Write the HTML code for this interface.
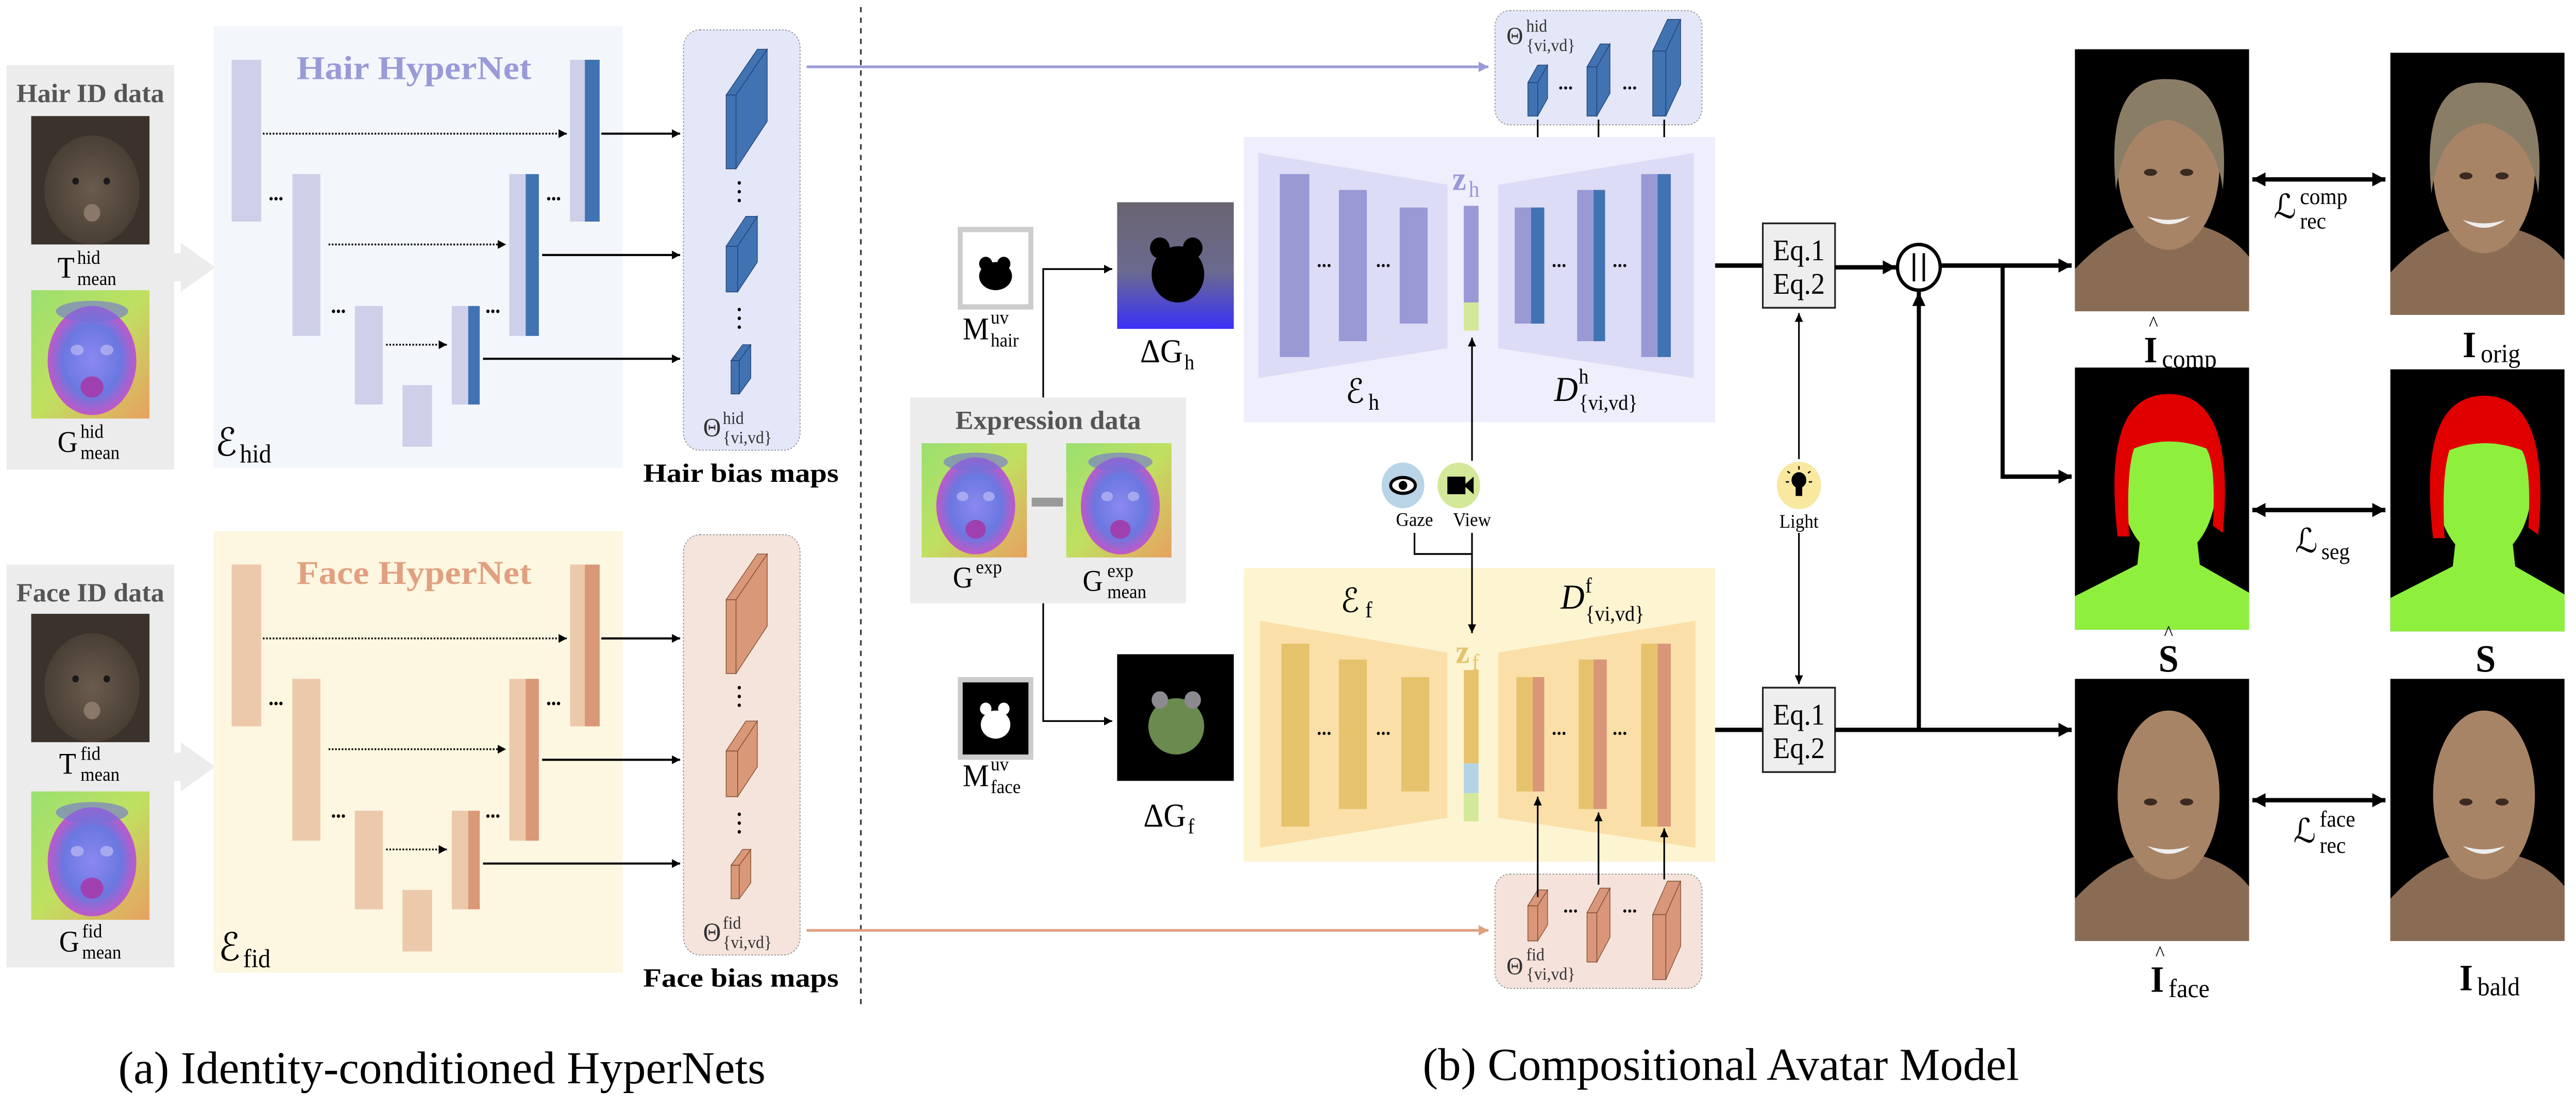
<!DOCTYPE html>
<html><head><meta charset="utf-8"><style>html,body{margin:0;padding:0;background:#fff;overflow:hidden}svg{display:block;position:fixed;left:0;top:0;width:100vw;height:100vh}</style></head><body>
<svg xmlns="http://www.w3.org/2000/svg" viewBox="0 0 1568 630" preserveAspectRatio="none" font-family="'Liberation Serif', serif">
<defs>
<marker id="a" viewBox="0 0 10 10" refX="10" refY="5" markerWidth="5" markerHeight="5" markerUnits="userSpaceOnUse" orient="auto"><path d="M0,0L10,5L0,10z" fill="#000"/></marker>
<marker id="ab" viewBox="0 0 10 10" refX="10" refY="5" markerWidth="8" markerHeight="8" markerUnits="userSpaceOnUse" orient="auto-start-reverse"><path d="M0,0L10,5L0,10z" fill="#000"/></marker>
<marker id="ap" viewBox="0 0 10 10" refX="10" refY="5" markerWidth="6" markerHeight="6" markerUnits="userSpaceOnUse" orient="auto"><path d="M0,0L10,5L0,10z" fill="#9a9ad8"/></marker>
<marker id="ao" viewBox="0 0 10 10" refX="10" refY="5" markerWidth="6" markerHeight="6" markerUnits="userSpaceOnUse" orient="auto"><path d="M0,0L10,5L0,10z" fill="#e0a080"/></marker>
<linearGradient id="gbg" x1="0" y1="0" x2="1" y2="1"><stop offset="0" stop-color="#9ae070"/><stop offset=".5" stop-color="#c0e060"/><stop offset="1" stop-color="#e8a060"/></linearGradient>
<radialGradient id="gf" cx=".5" cy=".5" r=".5"><stop offset="0" stop-color="#8c88f0"/><stop offset=".65" stop-color="#6a78e0"/><stop offset="1" stop-color="#c058c8"/></radialGradient>
<radialGradient id="tf" cx=".5" cy=".5" r=".5"><stop offset="0" stop-color="#6a5c4e"/><stop offset="1" stop-color="#4a3f35"/></radialGradient>
<linearGradient id="dgh" x1="0" y1="0" x2="0" y2="1"><stop offset="0" stop-color="#6a6470"/><stop offset=".55" stop-color="#6a6a90"/><stop offset="1" stop-color="#3a30f8"/></linearGradient>
<g id="gt"><rect width="72" height="73" fill="url(#gbg)"/><ellipse cx="37" cy="40" rx="27" ry="31" fill="url(#gf)"/><ellipse cx="37" cy="12" rx="22" ry="6" fill="#7070d8" opacity=".6"/><ellipse cx="28" cy="34" rx="4" ry="3" fill="#a8a8f0"/><ellipse cx="46" cy="34" rx="4" ry="3" fill="#a8a8f0"/><ellipse cx="37" cy="55" rx="7" ry="6" fill="#a040b0"/></g>
<g id="tt"><rect width="72" height="73" fill="#3a322b"/><ellipse cx="37" cy="42" rx="29" ry="31" fill="url(#tf)"/><circle cx="27" cy="37" r="2" fill="#1a1a1a"/><circle cx="46" cy="37" r="2" fill="#1a1a1a"/><ellipse cx="37" cy="55" rx="5" ry="5" fill="#8a786a"/></g>
<g id="face"><rect width="106" height="149" fill="#000"/><path d="M0,125 Q20,105 40,100 L75,100 Q95,105 106,118 L106,149 L0,149Z" fill="#8a6c55"/><rect x="42" y="90" width="30" height="20" fill="#94745a"/><ellipse cx="57" cy="66" rx="31" ry="48" fill="#a88466"/><ellipse cx="46" cy="70" rx="4" ry="2" fill="#3a2a20"/><ellipse cx="68" cy="70" rx="4" ry="2" fill="#3a2a20"/><path d="M44,95 Q57,104 70,95 Q57,99 44,95Z" fill="#eee"/></g>
<g id="hair"><path d="M25,80 Q18,15 57,17 Q96,17 90,80 Q86,47 57,40 Q30,43 25,80Z" fill="#8a7d66"/></g>
<g id="seg"><rect width="106" height="149" fill="#000"/><path d="M0,130 L38,112 L40,95 L74,95 L76,112 L106,128 L106,149 L0,149Z" fill="#8ef03c"/><ellipse cx="57" cy="66" rx="29" ry="42" fill="#8ef03c"/><path d="M26,96 Q16,15 57,15 Q98,15 90,94 L84,90 Q86,55 80,46 Q57,38 36,46 Q31,60 33,96Z" fill="#e00000"/></g>
</defs>

<line x1="524" y1="4" x2="524" y2="571" stroke="#333" stroke-width="1" stroke-dasharray="3,3"/>

<rect x="4" y="37" width="102" height="230" fill="#ececec"/>
<text x="55" y="58" text-anchor="middle" font-weight="bold" font-size="15" fill="#555" textLength="90" lengthAdjust="spacingAndGlyphs">Hair ID data</text>
<use href="#tt" transform="translate(19,66)"/>
<text x="35" y="158" font-size="17">T</text><text x="47" y="150" font-size="11">hid</text><text x="47" y="162" font-size="11">mean</text>
<use href="#gt" transform="translate(19,165)"/>
<text x="35" y="257" font-size="17">G</text><text x="49" y="249" font-size="11">hid</text><text x="49" y="261" font-size="11">mean</text>
<polygon points="106,144 110,144 110,138 131,152 110,166 110,160 106,160" fill="#ececec"/>

<rect x="4" y="321" width="102" height="229" fill="#ececec"/>
<text x="55" y="342" text-anchor="middle" font-weight="bold" font-size="15" fill="#555" textLength="90" lengthAdjust="spacingAndGlyphs">Face ID data</text>
<use href="#tt" transform="translate(19,349)"/>
<text x="36" y="440" font-size="17">T</text><text x="49" y="432" font-size="11">fid</text><text x="49" y="444" font-size="11">mean</text>
<use href="#gt" transform="translate(19,450)"/>
<text x="36" y="541" font-size="17">G</text><text x="50" y="533" font-size="11">fid</text><text x="50" y="545" font-size="11">mean</text>
<polygon points="106,428 110,428 110,422 131,436 110,450 110,444 106,444" fill="#ececec"/>

<g>
<rect x="130" y="15" width="249" height="251" fill="#f3f7fc"/>
<text x="252" y="45" text-anchor="middle" font-weight="bold" font-size="19" fill="#9a9ad8" textLength="143" lengthAdjust="spacingAndGlyphs">Hair HyperNet</text>
<g fill="#cdd0e8">
<rect x="141" y="34" width="18" height="92"/><rect x="178" y="99" width="17" height="92"/><rect x="216" y="174" width="17" height="56"/><rect x="245" y="219" width="18" height="35"/>
<rect x="275" y="174" width="17" height="56"/><rect x="310" y="99" width="18" height="92"/><rect x="347" y="34" width="18" height="92"/>
</g>
<g fill="#4173b3"><rect x="285" y="174" width="7" height="56"/><rect x="320" y="99" width="8" height="92"/><rect x="356" y="34" width="9" height="92"/></g>
<g fill="#000"><circle cx="165" cy="113" r="1"/><circle cx="168" cy="113" r="1"/><circle cx="171" cy="113" r="1"/>
<circle cx="203" cy="177" r="1"/><circle cx="206" cy="177" r="1"/><circle cx="209" cy="177" r="1"/>
<circle cx="334" cy="113" r="1"/><circle cx="337" cy="113" r="1"/><circle cx="340" cy="113" r="1"/>
<circle cx="297" cy="177" r="1"/><circle cx="300" cy="177" r="1"/><circle cx="303" cy="177" r="1"/></g>
<g stroke="#000" stroke-width="1" stroke-dasharray="1,1" marker-end="url(#a)"><line x1="160" y1="76" x2="345" y2="76"/><line x1="200" y1="139" x2="308" y2="139"/><line x1="235" y1="196" x2="272" y2="196"/></g>
<g stroke="#000" stroke-width="1.2" marker-end="url(#a)"><line x1="366" y1="76" x2="414" y2="76"/><line x1="330" y1="145" x2="414" y2="145"/><line x1="294" y1="204" x2="414" y2="204"/></g>
<text x="131" y="259" font-family="'DejaVu Serif','DejaVu Sans',serif" font-size="22">ℰ</text><text x="146" y="263" font-size="15">hid</text>
<rect x="416" y="17" width="71" height="239" rx="10" fill="#e4e7f8" stroke="#999" stroke-width=".6" stroke-dasharray="1,1"/>
<g fill="#4173b3" stroke="#1f3f70" stroke-width=".4">
<rect x="442" y="54" width="6" height="42"/><polygon points="442,54 448,54 467,28 461,28"/><polygon points="448,54 467,28 467,69 448,96"/>
<rect x="442" y="140" width="7" height="26"/><polygon points="442,140 449,140 461,123 454,123"/><polygon points="449,140 461,123 461,149 449,166"/>
<rect x="445" y="205" width="5" height="19"/><polygon points="445,205 450,205 457,196 452,196"/><polygon points="450,205 457,196 457,215 450,224"/>
</g>
<g fill="#000"><circle cx="450" cy="104" r="1"/><circle cx="450" cy="109" r="1"/><circle cx="450" cy="114" r="1"/><circle cx="450" cy="176" r="1"/><circle cx="450" cy="181" r="1"/><circle cx="450" cy="186" r="1"/></g>
<text x="428" y="248" font-size="15" fill="#333">Θ</text><text x="440" y="241" font-size="10" fill="#333">hid</text><text x="440" y="252" font-size="10" fill="#333">{vi,vd}</text>
<text x="451" y="274" text-anchor="middle" font-weight="bold" font-size="15" textLength="119" lengthAdjust="spacingAndGlyphs">Hair bias maps</text>
</g>

<g transform="translate(0,287)">
<rect x="130" y="15" width="249" height="251" fill="#fdf6e0"/>
<text x="252" y="45" text-anchor="middle" font-weight="bold" font-size="19" fill="#e0a080" textLength="143" lengthAdjust="spacingAndGlyphs">Face HyperNet</text>
<g fill="#ecc9aa">
<rect x="141" y="34" width="18" height="92"/><rect x="178" y="99" width="17" height="92"/><rect x="216" y="174" width="17" height="56"/><rect x="245" y="219" width="18" height="35"/>
<rect x="275" y="174" width="17" height="56"/><rect x="310" y="99" width="18" height="92"/><rect x="347" y="34" width="18" height="92"/>
</g>
<g fill="#d99877"><rect x="285" y="174" width="7" height="56"/><rect x="320" y="99" width="8" height="92"/><rect x="356" y="34" width="9" height="92"/></g>
<g fill="#000"><circle cx="165" cy="113" r="1"/><circle cx="168" cy="113" r="1"/><circle cx="171" cy="113" r="1"/>
<circle cx="203" cy="177" r="1"/><circle cx="206" cy="177" r="1"/><circle cx="209" cy="177" r="1"/>
<circle cx="334" cy="113" r="1"/><circle cx="337" cy="113" r="1"/><circle cx="340" cy="113" r="1"/>
<circle cx="297" cy="177" r="1"/><circle cx="300" cy="177" r="1"/><circle cx="303" cy="177" r="1"/></g>
<g stroke="#000" stroke-width="1" stroke-dasharray="1,1" marker-end="url(#a)"><line x1="160" y1="76" x2="345" y2="76"/><line x1="200" y1="139" x2="308" y2="139"/><line x1="235" y1="196" x2="272" y2="196"/></g>
<g stroke="#000" stroke-width="1.2" marker-end="url(#a)"><line x1="366" y1="76" x2="414" y2="76"/><line x1="330" y1="145" x2="414" y2="145"/><line x1="294" y1="204" x2="414" y2="204"/></g>
<text x="133" y="259" font-family="'DejaVu Serif','DejaVu Sans',serif" font-size="22">ℰ</text><text x="148" y="263" font-size="15">fid</text>
<rect x="416" y="17" width="71" height="239" rx="10" fill="#f5e4dc" stroke="#999" stroke-width=".6" stroke-dasharray="1,1"/>
<g fill="#d99877" stroke="#7a4a30" stroke-width=".4">
<rect x="442" y="54" width="6" height="42"/><polygon points="442,54 448,54 467,28 461,28"/><polygon points="448,54 467,28 467,69 448,96"/>
<rect x="442" y="140" width="7" height="26"/><polygon points="442,140 449,140 461,123 454,123"/><polygon points="449,140 461,123 461,149 449,166"/>
<rect x="445" y="205" width="5" height="19"/><polygon points="445,205 450,205 457,196 452,196"/><polygon points="450,205 457,196 457,215 450,224"/>
</g>
<g fill="#000"><circle cx="450" cy="104" r="1"/><circle cx="450" cy="109" r="1"/><circle cx="450" cy="114" r="1"/><circle cx="450" cy="176" r="1"/><circle cx="450" cy="181" r="1"/><circle cx="450" cy="186" r="1"/></g>
<text x="428" y="248" font-size="15" fill="#333">Θ</text><text x="440" y="241" font-size="10" fill="#333">fid</text><text x="440" y="252" font-size="10" fill="#333">{vi,vd}</text>
<text x="451" y="274" text-anchor="middle" font-weight="bold" font-size="15" textLength="119" lengthAdjust="spacingAndGlyphs">Face bias maps</text>
</g>

<text x="72" y="616" font-size="26" textLength="394" lengthAdjust="spacingAndGlyphs">(a) Identity-conditioned HyperNets</text>
<text x="866" y="614" font-size="26" textLength="363" lengthAdjust="spacingAndGlyphs">(b) Compositional Avatar Model</text>

<line x1="491" y1="38" x2="906" y2="38" stroke="#9a9ad8" stroke-width="1.5" marker-end="url(#ap)"/>
<line x1="491" y1="529" x2="906" y2="529" stroke="#e0a080" stroke-width="1.5" marker-end="url(#ao)"/>

<rect x="910" y="6" width="126" height="65" rx="9" fill="#e4e7f8" stroke="#999" stroke-width=".6" stroke-dasharray="1,1"/>
<text x="917" y="25" font-size="14" fill="#333">Θ</text><text x="929" y="18" font-size="10" fill="#333">hid</text><text x="929" y="29" font-size="10" fill="#333">{vi,vd}</text>
<g fill="#4173b3" stroke="#1f3f70" stroke-width=".4">
<rect x="930" y="47" width="6" height="19"/><polygon points="930,47 936,47 942,37 936,37"/><polygon points="936,47 942,37 942,56 936,66"/>
<rect x="966" y="38" width="6" height="28"/><polygon points="966,38 972,38 980,25 974,25"/><polygon points="972,38 980,25 980,53 972,66"/>
<rect x="1006" y="29" width="8" height="37"/><polygon points="1006,29 1014,29 1023,11 1015,11"/><polygon points="1014,29 1023,11 1023,48 1014,66"/>
</g>
<g fill="#000"><circle cx="950" cy="50" r=".9"/><circle cx="953" cy="50" r=".9"/><circle cx="956" cy="50" r=".9"/><circle cx="989" cy="50" r=".9"/><circle cx="992" cy="50" r=".9"/><circle cx="995" cy="50" r=".9"/></g>
<g stroke="#000" stroke-width="1" marker-end="url(#a)"><line x1="936" y1="68" x2="936" y2="117"/><line x1="973" y1="68" x2="973" y2="106"/><line x1="1013" y1="68" x2="1013" y2="96"/></g>

<rect x="757" y="78" width="287" height="162" fill="#eeeefc"/>
<polygon points="766,87 881,105 881,198 766,215" fill="#dcdcf6"/>
<polygon points="912,105 1031,87 1031,215 912,198" fill="#dcdcf6"/>
<g fill="#9999d6"><rect x="779" y="99" width="18" height="104"/><rect x="815" y="108" width="17" height="86"/><rect x="852" y="118" width="17" height="66"/>
<rect x="922" y="118" width="18" height="66"/><rect x="960" y="108" width="17" height="86"/><rect x="999" y="99" width="18" height="104"/>
<rect x="891" y="117" width="9" height="55"/></g>
<rect x="891" y="172" width="9" height="16" fill="#d4e89a"/>
<g fill="#4173b3"><rect x="932" y="118" width="8" height="66"/><rect x="970" y="108" width="7" height="86"/><rect x="1009" y="99" width="8" height="104"/></g>
<g fill="#000"><circle cx="803" cy="151" r=".9"/><circle cx="806" cy="151" r=".9"/><circle cx="809" cy="151" r=".9"/><circle cx="839" cy="151" r=".9"/><circle cx="842" cy="151" r=".9"/><circle cx="845" cy="151" r=".9"/>
<circle cx="946" cy="151" r=".9"/><circle cx="949" cy="151" r=".9"/><circle cx="952" cy="151" r=".9"/><circle cx="983" cy="151" r=".9"/><circle cx="986" cy="151" r=".9"/><circle cx="989" cy="151" r=".9"/></g>
<text x="884" y="108" font-size="19" font-weight="bold" fill="#9999d6">z</text><text x="894" y="112" font-size="13" fill="#9999d6">h</text>
<text x="819" y="229" font-family="'DejaVu Serif','DejaVu Sans',serif" font-size="19">ℰ</text><text x="833" y="233" font-size="13">h</text>
<text x="946" y="228" font-size="20" font-style="italic">D</text><text x="961" y="218" font-size="12">h</text><text x="961" y="233" font-size="12">{vi,vd}</text>

<rect x="757" y="323" width="287" height="167" fill="#fdf4d2"/>
<polygon points="767,353 881,371 881,465 767,482" fill="#fae0a8"/>
<polygon points="912,371 1032,353 1032,482 912,465" fill="#fae0a8"/>
<g fill="#e6c26c"><rect x="780" y="366" width="17" height="104"/><rect x="815" y="375" width="17" height="85"/><rect x="853" y="385" width="17" height="65"/>
<rect x="923" y="385" width="17" height="65"/><rect x="961" y="375" width="17" height="85"/><rect x="999" y="366" width="18" height="104"/>
<rect x="891" y="381" width="9" height="53"/></g>
<rect x="891" y="434" width="9" height="17" fill="#b4d4e6"/><rect x="891" y="451" width="9" height="16" fill="#d4e89a"/>
<g fill="#d9967a"><rect x="933" y="385" width="7" height="65"/><rect x="970" y="375" width="8" height="85"/><rect x="1009" y="366" width="8" height="104"/></g>
<g fill="#000"><circle cx="803" cy="417" r=".9"/><circle cx="806" cy="417" r=".9"/><circle cx="809" cy="417" r=".9"/><circle cx="839" cy="417" r=".9"/><circle cx="842" cy="417" r=".9"/><circle cx="845" cy="417" r=".9"/>
<circle cx="946" cy="417" r=".9"/><circle cx="949" cy="417" r=".9"/><circle cx="952" cy="417" r=".9"/><circle cx="983" cy="417" r=".9"/><circle cx="986" cy="417" r=".9"/><circle cx="989" cy="417" r=".9"/></g>
<text x="886" y="377" font-size="19" font-weight="bold" fill="#e6c26c">z</text><text x="896" y="381" font-size="13" fill="#e6c26c">f</text>
<text x="816" y="348" font-family="'DejaVu Serif','DejaVu Sans',serif" font-size="19">ℰ</text><text x="831" y="351" font-size="13">f</text>
<text x="950" y="346" font-size="20" font-style="italic">D</text><text x="965" y="337" font-size="12">f</text><text x="965" y="353" font-size="12">{vi,vd}</text>

<rect x="910" y="497" width="126" height="65" rx="9" fill="#f5e2da" stroke="#999" stroke-width=".6" stroke-dasharray="1,1"/>
<g fill="#d9967a" stroke="#7a4a30" stroke-width=".4">
<rect x="930" y="515" width="6" height="20"/><polygon points="930,515 936,515 942,506 936,506"/><polygon points="936,515 942,506 942,526 936,535"/>
<rect x="966" y="519" width="6" height="28"/><polygon points="966,519 972,519 980,505 974,505"/><polygon points="972,519 980,505 980,533 972,547"/>
<rect x="1006" y="520" width="8" height="37"/><polygon points="1006,520 1014,520 1023,501 1015,501"/><polygon points="1014,520 1023,501 1023,538 1014,557"/>
</g>
<g fill="#000"><circle cx="953" cy="518" r=".9"/><circle cx="956" cy="518" r=".9"/><circle cx="959" cy="518" r=".9"/><circle cx="989" cy="518" r=".9"/><circle cx="992" cy="518" r=".9"/><circle cx="995" cy="518" r=".9"/></g>
<text x="917" y="554" font-size="14" fill="#333">Θ</text><text x="929" y="546" font-size="10" fill="#333">fid</text><text x="929" y="557" font-size="10" fill="#333">{vi,vd}</text>
<g stroke="#000" stroke-width="1" marker-end="url(#a)"><line x1="936" y1="510" x2="936" y2="453"/><line x1="973" y1="503" x2="973" y2="462"/><line x1="1013" y1="500" x2="1013" y2="471"/></g>

<rect x="584.5" y="130.5" width="43" height="44" fill="#fff" stroke="#ccc" stroke-width="3"/>
<ellipse cx="606" cy="157" rx="10" ry="8" fill="#000"/><circle cx="600" cy="150" r="4" fill="#000"/><circle cx="611" cy="150" r="4" fill="#000"/>
<text x="586" y="193" font-size="18">M</text><text x="603" y="184" font-size="11">uv</text><text x="603" y="197" font-size="11">hair</text>
<rect x="584.5" y="386.5" width="43" height="44" fill="#000" stroke="#ccc" stroke-width="3"/>
<ellipse cx="606" cy="412" rx="9" ry="8" fill="#fff"/><circle cx="600" cy="403" r="3.5" fill="#fff"/><circle cx="611" cy="403" r="3.5" fill="#fff"/>
<text x="586" y="447" font-size="18">M</text><text x="603" y="438" font-size="11">uv</text><text x="603" y="451" font-size="11">face</text>
<rect x="680" y="115" width="71" height="72" fill="url(#dgh)"/>
<ellipse cx="717" cy="156" rx="16" ry="16" fill="#000"/><circle cx="706" cy="141" r="6" fill="#000"/><circle cx="726" cy="141" r="6" fill="#000"/>
<text x="694" y="206" font-size="19">ΔG</text><text x="721" y="210" font-size="12">h</text>
<rect x="680" y="372" width="71" height="72" fill="#000"/>
<ellipse cx="716" cy="413" rx="17" ry="16" fill="#6a8a50"/><circle cx="706" cy="398" r="5" fill="#8a8a90"/><circle cx="726" cy="398" r="5" fill="#8a8a90"/>
<text x="696" y="470" font-size="19">ΔG</text><text x="723" y="474" font-size="12">f</text>

<rect x="554" y="226" width="168" height="117" fill="#ececec"/>
<text x="638" y="244" text-anchor="middle" font-weight="bold" font-size="15" fill="#555" textLength="113" lengthAdjust="spacingAndGlyphs">Expression data</text>
<use href="#gt" transform="translate(561,252) scale(0.89)"/>
<use href="#gt" transform="translate(649,252) scale(0.89)"/>
<rect x="628" y="283" width="19" height="5" fill="#999"/>
<text x="580" y="334" font-size="17">G</text><text x="594" y="326" font-size="11">exp</text>
<text x="659" y="336" font-size="17">G</text><text x="674" y="328" font-size="11">exp</text><text x="674" y="340" font-size="11">mean</text>
<polyline points="635,226 635,153 677,153" fill="none" stroke="#000" stroke-width="1" marker-end="url(#a)"/>
<polyline points="635,343 635,410 677,410" fill="none" stroke="#000" stroke-width="1" marker-end="url(#a)"/>

<circle cx="854" cy="276" r="13" fill="#b8d4e6"/>
<ellipse cx="854" cy="276" rx="7.5" ry="4.5" fill="#fff" stroke="#000" stroke-width="1.8"/><circle cx="854" cy="276" r="2.6" fill="#000"/>
<circle cx="888" cy="276" r="13" fill="#d4e89a"/>
<rect x="881" y="271" width="11" height="10" fill="#000"/><polygon points="891,276 897,271 897,281" fill="#000"/>
<circle cx="1095" cy="276" r="13.5" fill="#f8e8a0"/>
<circle cx="1095" cy="273" r="4.5" fill="#000"/><rect x="1093" y="276" width="4" height="6" fill="#000"/>
<g stroke="#000" stroke-width=".8"><line x1="1095" y1="265" x2="1095" y2="267"/><line x1="1088" y1="268" x2="1089.5" y2="269"/><line x1="1102" y1="268" x2="1100.5" y2="269"/><line x1="1087" y1="274" x2="1089" y2="274"/><line x1="1103" y1="274" x2="1101" y2="274"/></g>
<text x="861" y="299" text-anchor="middle" font-size="11">Gaze</text>
<text x="896" y="299" text-anchor="middle" font-size="11">View</text>
<text x="1095" y="300" text-anchor="middle" font-size="11">Light</text>
<polyline points="861,303 861,315 896,315" fill="none" stroke="#000" stroke-width="1"/>
<line x1="896" y1="303" x2="896" y2="360" stroke="#000" stroke-width="1" marker-end="url(#a)"/>
<line x1="896" y1="262" x2="896" y2="192" stroke="#000" stroke-width="1" marker-end="url(#a)"/>
<line x1="1095" y1="261" x2="1095" y2="178" stroke="#000" stroke-width="1" marker-end="url(#a)"/>
<line x1="1095" y1="303" x2="1095" y2="389" stroke="#000" stroke-width="1" marker-end="url(#a)"/>

<line x1="1044" y1="151" x2="1073" y2="151" stroke="#000" stroke-width="2.5"/>
<line x1="1044" y1="415" x2="1073" y2="415" stroke="#000" stroke-width="2.5"/>
<rect x="1073" y="127" width="44" height="48" fill="#eee" stroke="#222" stroke-width="1"/>
<text x="1095" y="148" text-anchor="middle" font-size="17">Eq.1</text><text x="1095" y="167" text-anchor="middle" font-size="17">Eq.2</text>
<rect x="1073" y="391" width="44" height="48" fill="#eee" stroke="#222" stroke-width="1"/>
<text x="1095" y="412" text-anchor="middle" font-size="17">Eq.1</text><text x="1095" y="431" text-anchor="middle" font-size="17">Eq.2</text>
<line x1="1117" y1="152" x2="1154" y2="152" stroke="#000" stroke-width="2.5" marker-end="url(#ab)"/>
<circle cx="1168" cy="152" r="13" fill="#fff" stroke="#000" stroke-width="2"/>
<line x1="1165" y1="144" x2="1165" y2="160" stroke="#000" stroke-width="1.5"/><line x1="1171" y1="144" x2="1171" y2="160" stroke="#000" stroke-width="1.5"/>
<line x1="1181" y1="151" x2="1261" y2="151" stroke="#000" stroke-width="2.5" marker-end="url(#ab)"/>
<polyline points="1219,151 1219,271 1261,271" fill="none" stroke="#000" stroke-width="2.5" marker-end="url(#ab)"/>
<line x1="1117" y1="415" x2="1261" y2="415" stroke="#000" stroke-width="2.5" marker-end="url(#ab)"/>
<line x1="1168" y1="415" x2="1168" y2="166" stroke="#000" stroke-width="2.5" marker-end="url(#ab)"/>

<g transform="translate(1263,28)"><use href="#face"/><use href="#hair"/></g>
<g transform="translate(1455,30)"><use href="#face"/><use href="#hair"/></g>
<use href="#seg" transform="translate(1263,209)"/>
<use href="#seg" transform="translate(1455,210)"/>
<use href="#face" transform="translate(1263,386)"/>
<use href="#face" transform="translate(1455,386)"/>

<line x1="1371" y1="102" x2="1452" y2="102" stroke="#000" stroke-width="2.5" marker-start="url(#ab)" marker-end="url(#ab)"/>
<line x1="1371" y1="290" x2="1452" y2="290" stroke="#000" stroke-width="2.5" marker-start="url(#ab)" marker-end="url(#ab)"/>
<line x1="1371" y1="455" x2="1452" y2="455" stroke="#000" stroke-width="2.5" marker-start="url(#ab)" marker-end="url(#ab)"/>
<text x="1384" y="124" font-family="'DejaVu Serif','DejaVu Sans',serif" font-style="italic" font-size="19">ℒ</text><text x="1400" y="116" font-size="13">comp</text><text x="1400" y="130" font-size="13">rec</text>
<text x="1397" y="314" font-family="'DejaVu Serif','DejaVu Sans',serif" font-style="italic" font-size="19">ℒ</text><text x="1413" y="318" font-size="13">seg</text>
<text x="1396" y="479" font-family="'DejaVu Serif','DejaVu Sans',serif" font-style="italic" font-size="19">ℒ</text><text x="1412" y="470" font-size="13">face</text><text x="1412" y="485" font-size="13">rec</text>

<text x="1305" y="206" font-size="21" font-weight="bold">I</text><text x="1308" y="188" font-size="12">^</text><text x="1316" y="209" font-size="15">comp</text>
<text x="1499" y="203" font-size="21" font-weight="bold">I</text><text x="1510" y="206" font-size="15">orig</text>
<text x="1320" y="382" text-anchor="middle" font-size="22" font-weight="bold">S</text><text x="1320" y="364" text-anchor="middle" font-size="12">^</text>
<text x="1513" y="382" text-anchor="middle" font-size="22" font-weight="bold">S</text>
<text x="1309" y="564" font-size="21" font-weight="bold">I</text><text x="1312" y="546" font-size="12">^</text><text x="1320" y="567" font-size="15">face</text>
<text x="1497" y="563" font-size="21" font-weight="bold">I</text><text x="1508" y="566" font-size="15">bald</text>
</svg>
</body></html>
